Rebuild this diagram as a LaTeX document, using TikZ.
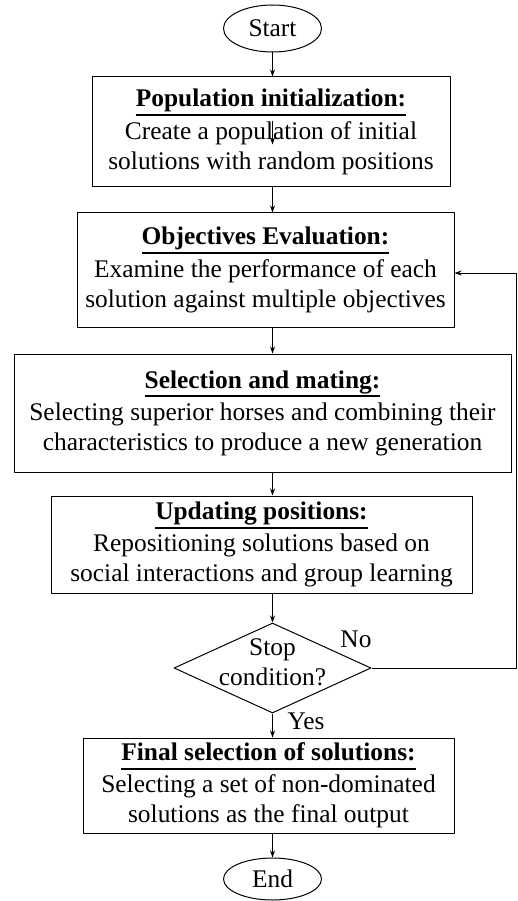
\documentclass[tikz,border=0pt]{standalone}
\usepackage{fontspec}
\setmainfont{Liberation Serif}
\usetikzlibrary{shapes.geometric,arrows.meta}
\newcommand{\ttl}[1]{\setbox0\hbox{\textbf{#1}}\rlap{\rule[-9pt]{\wd0}{1.7pt}}\box0}
\begin{document}
\begin{tikzpicture}[x=1pt,y=-1pt,line join=round,line width=1pt,
  >={Stealth[length=7pt,width=5pt]},
  font=\fontsize{25.4}{30}\selectfont,
  every node/.style={inner sep=0pt},
  box/.style={draw,align=center},
  term/.style={draw,ellipse,minimum width=98pt},
  decision/.style={draw,diamond,minimum width=197pt,minimum height=90pt}]
\useasboundingbox (0,0) rectangle (517,901);
\coordinate (axis) at (272.5,0);
\node[term,minimum height=47pt] (start) at (272.5,28.5) {Start};
\node[box,minimum width=358pt,minimum height=110pt] (init) at (271,132)
  {\ttl{Population initialization:}\\[3pt]Create a population of initial\\solutions with random positions};
\node[box,minimum width=377pt,minimum height=114pt] (eval) at (265.5,270)
  {\ttl{Objectives Evaluation:}\\[3pt]Examine the performance of each\\solution against multiple objectives};
\node[box,minimum width=497pt,minimum height=118pt] (mate) at (262.5,413)
  {\ttl{Selection and mating:}\\[2pt]Selecting superior horses and combining their\\characteristics to produce a new generation};
\node[box,minimum width=421pt,minimum height=97pt] (update) at (261.5,544.5)
  {\ttl{Updating positions:}\\[2pt]Repositioning solutions based on\\social interactions and group learning};
\node[decision] (stop) at (272.5,668) {};
\node[align=center] (stoptext) at ([yshift=6pt]stop.center) {Stop\\condition?};
\node[box,minimum width=371pt,minimum height=95pt] (final) at (268.5,785.5)
  {\ttl{Final selection of solutions:}\\[2pt]Selecting a set of non-dominated\\solutions as the final output};
\node[term,minimum height=42pt] (finish) at (272.5,879) {End};
\node (no) at (356,639) {No};
\node (yes) at (306,721) {Yes};
\draw[->] (start.south) -- (axis |- init.north);
\draw[->] ([yshift=-45pt]init.north -| axis) -- ++(0,23);
\draw[->] (axis |- init.south) -- (axis |- eval.north);
\draw[->] (axis |- eval.south) -- (axis |- mate.north);
\draw[->] (axis |- mate.south) -- (axis |- update.north);
\draw[->] (axis |- update.south) -- (stop.north);
\draw[->] (stop.south) -- (axis |- final.north);
\draw[->] (axis |- final.south) -- (finish.north);
\coordinate (back) at (516,273);
\draw[->] (stop.east) -| (back) -- (eval.east |- back);
\end{tikzpicture}
\end{document}
